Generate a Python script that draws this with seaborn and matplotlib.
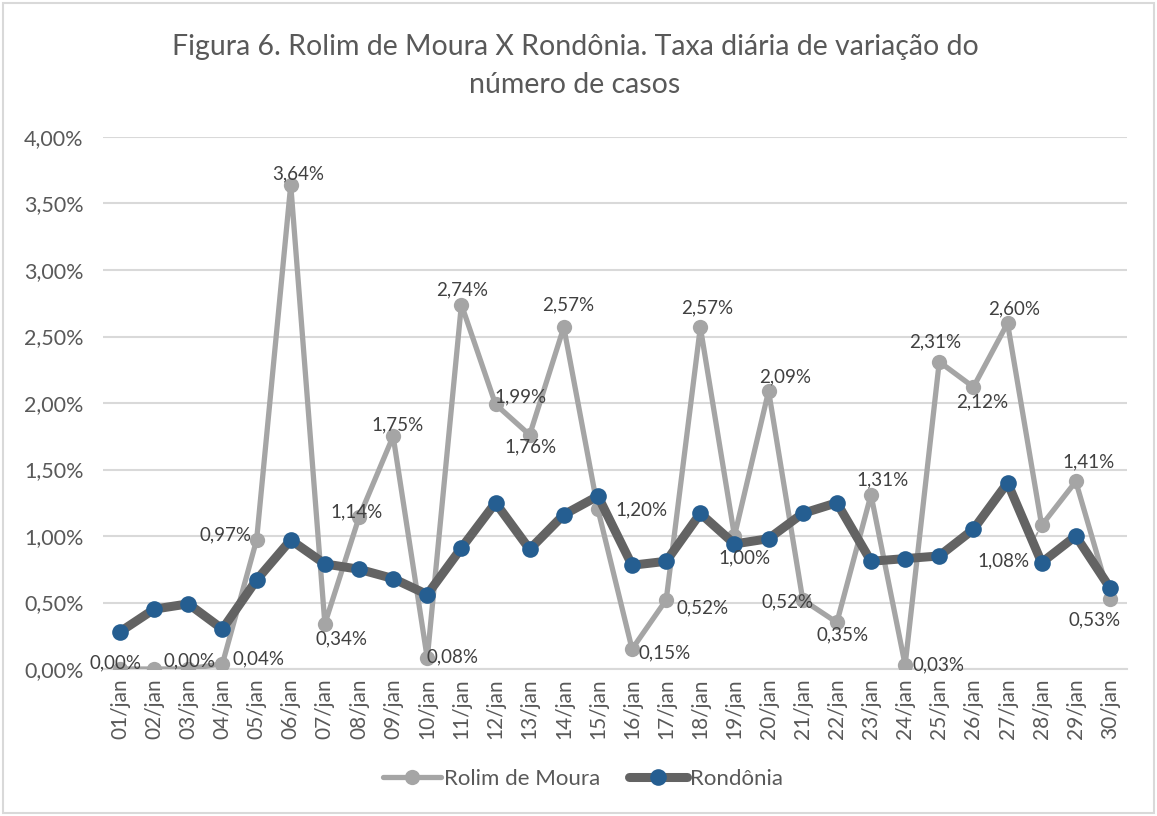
import matplotlib
matplotlib.use("Agg")
import matplotlib.pyplot as plt
import seaborn as sns
import pandas as pd
import numpy as np
from matplotlib.patches import Rectangle
from matplotlib.lines import Line2D

# ---- data ----
dias = ["01/jan", "02/jan", "03/jan", "04/jan", "05/jan", "06/jan", "07/jan", "08/jan",
        "09/jan", "10/jan", "11/jan", "12/jan", "13/jan", "14/jan", "15/jan", "16/jan",
        "17/jan", "18/jan", "19/jan", "20/jan", "21/jan", "22/jan", "23/jan", "24/jan",
        "25/jan", "26/jan", "27/jan", "28/jan", "29/jan", "30/jan"]
rolim = [0.00, 0.00, 0.00, 0.04, 0.97, 3.64, 0.34, 1.14, 1.75, 0.08,
         2.74, 1.99, 1.76, 2.57, 1.20, 0.15, 0.52, 2.57, 1.00, 2.09,
         0.52, 0.35, 1.31, 0.03, 2.31, 2.12, 2.60, 1.08, 1.41, 0.53]
rondonia = [0.28, 0.45, 0.49, 0.30, 0.67, 0.97, 0.79, 0.75, 0.68, 0.56,
            0.91, 1.25, 0.90, 1.16, 1.30, 0.78, 0.81, 1.17, 0.94, 0.98,
            1.17, 1.25, 0.81, 0.83, 0.85, 1.05, 1.40, 0.80, 1.00, 0.61]
show_label = [True, False] + [True] * 28
serie_rolim = "Rolim de Moura"
serie_ro = "Rondônia"
titulo = "Figura 6. Rolim de Moura X Rondônia. Taxa diária de variação do\nnúmero de casos"

# label offsets in pixels (dx, dy up)
label_off = [(-5, 6), (0, 0), (1, 8), (36, 5), (-31, 5), (7, 11), (17, -15), (-2, 6),
             (4, 11), (25, 1), (1, 15), (25, 7), (1, -12), (4, 22), (44, 0), (33, -4),
             (36, -8), (7, 19), (10, -22), (17, 14), (-15, -2), (6, -12), (12, 15),
             (33, 0), (-4, 20), (9, -15), (7, 14), (-38, -36), (13, 20), (-15, -21)]

# ---- style ----
sns.set_theme(style="white")
plt.rcParams["font.family"] = ["Lato", "DejaVu Sans"]
TXT = "#595959"
GRID = "#D9D9D9"
C_ROLIM = "#A5A5A5"
C_RO_LINE = "#636363"
C_RO_MK = "#255E91"

W, H = 1157, 816
fig = plt.figure(figsize=(W / 100, H / 100), dpi=100)
ax = fig.add_axes([103 / W, 1 - 669 / H, (1127 - 103) / W, (669 - 137) / H])

df = pd.DataFrame({"dia": dias, serie_rolim: np.array(rolim) / 100,
                   serie_ro: np.array(rondonia) / 100})
df["pos"] = np.arange(len(dias))

ROL_LW, ROL_MS = 3.8, 11
RO_LW, RO_MS = 6.5, 12

sns.lineplot(data=df, x="pos", y=serie_rolim, ax=ax, color=C_ROLIM, lw=ROL_LW,
             marker="o", markersize=ROL_MS, markeredgewidth=0, markerfacecolor=C_ROLIM,
             zorder=3, label=serie_rolim, legend=False)
sns.lineplot(data=df, x="pos", y=serie_ro, ax=ax, color=C_RO_LINE, lw=RO_LW,
             marker="o", markersize=RO_MS, markeredgewidth=0, markerfacecolor=C_RO_MK,
             zorder=4, label=serie_ro, legend=False)

ax.set_xlim(-0.5, len(dias) - 0.5)
ax.set_ylim(0, 0.04)
ax.set_yticks(np.arange(0, 0.0401, 0.005))
ax.yaxis.set_major_formatter(matplotlib.ticker.FuncFormatter(
    lambda v, p: f"{v*100:.2f}%".replace(".", ",")))
ax.set_xticks(df["pos"])
ax.set_xticklabels(dias, rotation=90)
ax.set_xticks(np.arange(-0.5, len(dias), 1.0), minor=True)
ax.tick_params(axis="x", which="major", length=0, pad=7, labelsize=15, colors=TXT)
ax.tick_params(axis="x", which="minor", length=7, width=1.3, color=GRID, direction="out")
ax.tick_params(axis="y", length=0, pad=14, labelsize=15.5, colors=TXT)
ax.set_xlabel("")
ax.set_ylabel("")
ax.grid(axis="y", color=GRID, lw=1.5, zorder=0)
ax.set_axisbelow(True)
for s in ["left", "right", "top"]:
    ax.spines[s].set_visible(False)
ax.spines["bottom"].set_color(GRID)
ax.spines["bottom"].set_linewidth(1.5)

# data labels
for i, (v, show) in enumerate(zip(rolim, show_label)):
    if not show:
        continue
    dx, dy = label_off[i]
    ax.annotate(f"{v:.2f}%".replace(".", ","), xy=(i, v / 100), xytext=(dx, dy),
                textcoords="offset pixels", ha="center", va="center",
                fontsize=13.5, color="#404040", zorder=6)
# leader line for 28/jan
i28 = dias.index("28/jan")
ax.annotate("", xy=(i28, rolim[i28] / 100), xytext=(-10, -18),
            textcoords="offset pixels",
            arrowprops=dict(arrowstyle="-", color=C_ROLIM, lw=1.2, shrinkA=0, shrinkB=6),
            zorder=2)

# title
fig.text(575 / W, 1 - 66 / H, titulo, ha="center", va="center", fontsize=20.5,
         color=TXT, linespacing=1.55)

# legend
handles = [Line2D([], [], color=C_ROLIM, lw=ROL_LW, marker="o", markersize=ROL_MS,
                  markerfacecolor=C_ROLIM, markeredgewidth=0),
           Line2D([], [], color=C_RO_LINE, lw=RO_LW, marker="o", markersize=RO_MS,
                  markerfacecolor=C_RO_MK, markeredgewidth=0)]
leg = fig.legend(handles, [serie_rolim, serie_ro], loc="center",
                 bbox_to_anchor=(583 / W, 1 - 779 / H), ncol=2, frameon=False,
                 fontsize=16, handlelength=2.6, handletextpad=0.15, columnspacing=1.3)
for t in leg.get_texts():
    t.set_color(TXT)

# chart border
fig.patches.append(Rectangle((3 / W, 3 / H), 1 - 6 / W, 1 - 6 / H, transform=fig.transFigure,
                             fill=False, edgecolor=GRID, lw=1.5))

fig.savefig("out.png", dpi=100, facecolor="white")
